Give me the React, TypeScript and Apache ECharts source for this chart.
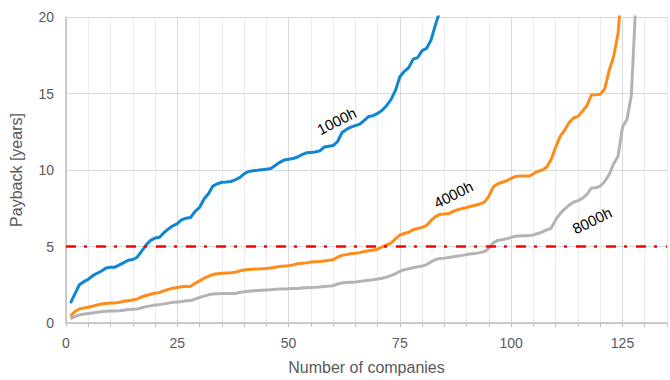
import React, { useEffect, useRef } from "react";
import * as echarts from "echarts";

// Payback period per company, sorted ascending, for three annual operating-hour scenarios
const hours1000: number[] = [
  1.3, 1.9, 2.5, 2.7, 2.85, 3.1, 3.25, 3.4, 3.6, 3.65,
  3.65, 3.8, 3.95, 4.1, 4.15, 4.3, 4.7, 5.1, 5.4, 5.55,
  5.6, 5.9, 6.15, 6.35, 6.5, 6.75, 6.85, 6.9, 7.3, 7.55,
  8.1, 8.45, 8.95, 9.1, 9.2, 9.22, 9.25, 9.35, 9.5, 9.75,
  9.9, 9.95, 9.98, 10.02, 10.05, 10.1, 10.3, 10.5, 10.65, 10.7,
  10.75, 10.85, 11.0, 11.12, 11.15, 11.18, 11.25, 11.5, 11.55, 11.6,
  11.85, 12.45, 12.65, 12.8, 12.9, 13.0, 13.25, 13.5, 13.55, 13.7,
  13.9, 14.2, 14.6, 15.2, 16.1, 16.45, 16.7, 17.25, 17.35, 17.8,
  17.95, 18.5, 19.5, 20.4, 22.0,
];

const hours4000: number[] = [
  0.45, 0.75, 0.92, 0.98, 1.03, 1.1, 1.18, 1.24, 1.28, 1.3,
  1.3, 1.35, 1.42, 1.46, 1.5, 1.57, 1.7, 1.8, 1.88, 1.95,
  2.0, 2.1, 2.2, 2.27, 2.32, 2.37, 2.39, 2.4, 2.6, 2.75,
  2.93, 3.05, 3.17, 3.22, 3.25, 3.27, 3.28, 3.32, 3.4, 3.47,
  3.5, 3.52, 3.53, 3.55, 3.57, 3.6, 3.65, 3.7, 3.72, 3.75,
  3.8, 3.87, 3.9, 3.93, 3.98, 4.0, 4.02, 4.05, 4.1, 4.14,
  4.3, 4.42, 4.47, 4.52, 4.56, 4.6, 4.67, 4.72, 4.77, 4.82,
  4.97, 5.1, 5.22, 5.5, 5.75, 5.85, 5.93, 6.1, 6.18, 6.25,
  6.38, 6.7, 6.95, 7.1, 7.12, 7.15, 7.3, 7.4, 7.48, 7.55,
  7.63, 7.7, 7.78, 7.9, 8.3, 8.9, 9.1, 9.2, 9.3, 9.45,
  9.58, 9.6, 9.6, 9.6, 9.75, 9.92, 10.0, 10.2, 10.7, 11.5,
  12.2, 12.6, 13.1, 13.4, 13.5, 13.85, 14.2, 14.9, 14.92, 14.95,
  15.3, 16.5, 17.4, 18.9, 22.5,
];

const hours8000: number[] = [
  0.28, 0.42, 0.53, 0.58, 0.62, 0.66, 0.7, 0.74, 0.77, 0.79,
  0.79, 0.8, 0.84, 0.88, 0.9, 0.92, 1.0, 1.07, 1.12, 1.17,
  1.2, 1.25, 1.3, 1.35, 1.38, 1.41, 1.45, 1.47, 1.56, 1.67,
  1.76, 1.84, 1.89, 1.91, 1.92, 1.92, 1.92, 1.93, 2.0, 2.05,
  2.08, 2.1, 2.12, 2.14, 2.16, 2.18, 2.2, 2.22, 2.23, 2.24,
  2.25, 2.26, 2.28, 2.3, 2.32, 2.33, 2.35, 2.38, 2.41, 2.44,
  2.55, 2.62, 2.64, 2.66, 2.68, 2.72, 2.76, 2.8, 2.83, 2.87,
  2.93, 3.0, 3.1, 3.22, 3.38, 3.48, 3.55, 3.61, 3.67, 3.72,
  3.82, 4.0, 4.15, 4.21, 4.24, 4.28, 4.33, 4.38, 4.42, 4.47,
  4.52, 4.55, 4.6, 4.67, 4.88, 5.25, 5.4, 5.45, 5.5, 5.6,
  5.67, 5.69, 5.7, 5.71, 5.76, 5.85, 5.95, 6.08, 6.2, 6.75,
  7.15, 7.45, 7.7, 7.9, 8.0, 8.15, 8.4, 8.82, 8.84, 8.95,
  9.25, 9.7, 10.4, 10.9, 12.8, 13.3, 14.9, 21.0,
];

const paybackLimit = 5;
const yTicks = [0, 5, 10, 15, 20];
const xLabelStep = 25;

const curveLabels = [
  { text: "1000h", coord: [60.8, 13.2], rotate: 27 },
  { text: "4000h", coord: [87.0, 8.4], rotate: 27 },
  { text: "8000h", coord: [118.2, 6.7], rotate: 26 },
];

const FONT = "'Liberation Sans', Arial, sans-serif";
const TEXT_GREY = "#595959";

const toPoints = (vals: number[]) => vals.map((v, i) => [i + 1, v]);

export default function App() {
  const ref = useRef<HTMLDivElement>(null);

  useEffect(() => {
    if (!ref.current) return;
    const chart = echarts.init(ref.current, null, { renderer: "svg" });

    const lineSeries = (name: string, vals: number[], color: string, idx: number) => ({
      name,
      type: "line",
      data: toPoints(vals),
      showSymbol: false,
      symbol: "none",
      clip: true,
      lineStyle: { color, width: 3, join: "round" },
      z: 3,
      markPoint: {
        silent: true,
        symbol: "circle",
        symbolSize: 0,
        data: [
          {
            coord: curveLabels[idx].coord,
            label: {
              show: true,
              formatter: curveLabels[idx].text,
              position: "inside",
              rotate: curveLabels[idx].rotate,
              color: "#000",
              fontSize: 15,
              fontWeight: "normal",
              fontFamily: FONT,
            },
          },
        ],
      },
    });

    chart.setOption({
      animation: false,
      backgroundColor: "#fff",
      grid: { left: 66, right: 1, top: 17, bottom: 51, containLabel: false },
      xAxis: {
        type: "value",
        min: 0,
        max: 135,
        interval: 5,
        name: "Number of companies",
        nameLocation: "middle",
        nameGap: 36,
        nameTextStyle: { color: TEXT_GREY, fontSize: 16, fontFamily: FONT },
        axisLine: { show: true, onZero: false, lineStyle: { color: "#bfbfbf", width: 1.5 } },
        axisTick: { show: true, length: 4, lineStyle: { color: "#bfbfbf" } },
        axisLabel: {
          interval: 0,
          color: TEXT_GREY,
          fontSize: 14,
          fontFamily: FONT,
          margin: 13,
          formatter: (v: number) => (v % xLabelStep === 0 ? String(v) : ""),
        },
        splitLine: {
          show: true,
          lineStyle: { color: ["#d9d9d9", "#ececec", "#ececec", "#ececec", "#ececec"], width: 1 },
        },
      },
      yAxis: {
        type: "value",
        min: yTicks[0],
        max: yTicks[yTicks.length - 1],
        interval: 5,
        name: "Payback [years]",
        nameLocation: "middle",
        nameGap: 42,
        nameTextStyle: { color: TEXT_GREY, fontSize: 16, fontFamily: FONT },
        axisLine: { show: true, lineStyle: { color: "#bfbfbf", width: 1.5 } },
        axisTick: { show: false },
        axisLabel: { color: TEXT_GREY, fontSize: 14, fontFamily: FONT, margin: 12 },
        splitLine: { show: true, lineStyle: { color: "#d9d9d9", width: 1 } },
      },
      series: [
        {
          ...lineSeries("1000h", hours1000, "#0f86d2", 0),
          markLine: {
            silent: true,
            symbol: ["none", "none"],
            label: { show: false },
            lineStyle: { color: "#ff0000", width: 2.5, type: [10, 8, 3, 9] },
            data: [{ yAxis: paybackLimit }],
          },
        },
        lineSeries("4000h", hours4000, "#ff8c1a", 1),
        lineSeries("8000h", hours8000, "#b3b3b3", 2),
      ],
    });

    return () => chart.dispose();
  }, []);

  return <div ref={ref} style={{ width: 670, height: 380, position: "absolute", left: 0, top: 0 }} />;
}
